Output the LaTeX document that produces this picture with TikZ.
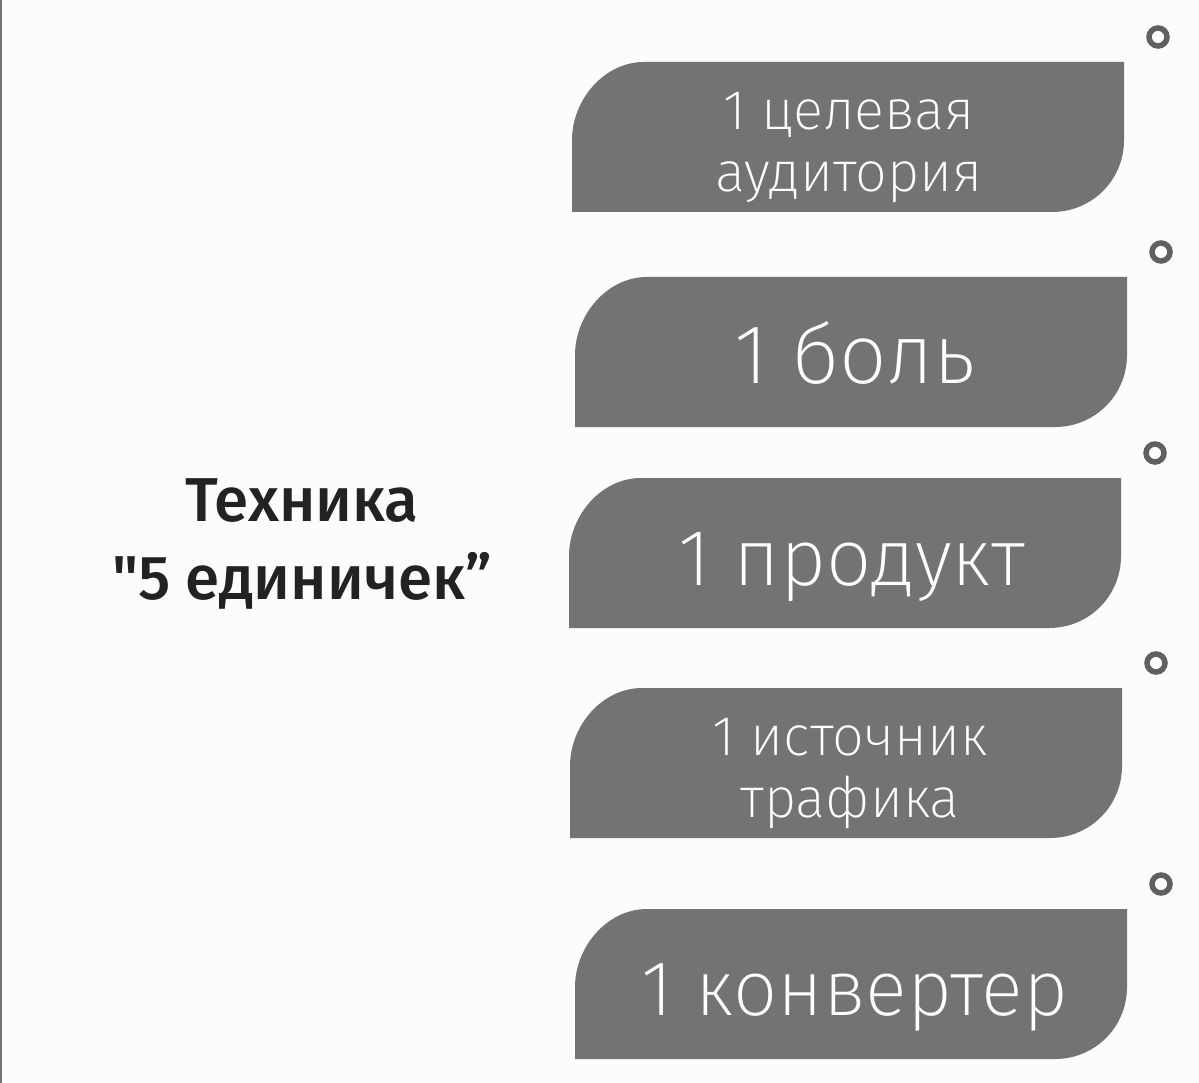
\documentclass[tikz,border=0pt]{standalone}
\usepackage{fontspec}
\newfontfamily\titlefont{Fira Sans Medium}
\newfontfamily\leaffont{Fira Sans ExtraLight}
\definecolor{leafgray}{HTML}{737373}
\definecolor{ringgray}{HTML}{606060}
\definecolor{paper}{HTML}{FCFCFC}
\definecolor{ink}{HTML}{222222}

\begin{document}
\begin{tikzpicture}[x=1pt,y=-1pt,
    leaf/.style={fill=leafgray},
    ring/.style={circle,draw=ringgray,line width=5.5pt,minimum size=18pt,inner sep=0pt},
    bigtext/.style={text=white,anchor=base,inner sep=0pt,font=\leaffont\fontsize{84}{90}\selectfont},
    smalltext/.style={text=white,anchor=base,inner sep=0pt,align=center,font=\leaffont\fontsize{56}{62}\selectfont},
    title/.style={text=ink,align=center,inner sep=0pt,font=\titlefont\fontsize{62}{78}\selectfont}]
    \useasboundingbox (0,0) rectangle (1199,1083);
    \fill[paper] (0,0) rectangle (1199,1083);
    \draw[leafgray,line width=2.5pt] (1,0) -- (1,1083);
    % five boxes: number / left edge / top edge
    \foreach \n/\x/\y in {1/572/62,2/575/277,3/569/478,4/570/688,5/575/909}{
        \fill[leaf] (\x,\y+150) -- (\x,\y+78) .. controls (\x,\y+38) and (\x+32,\y) .. (\x+72,\y)
            -- (\x+552,\y) -- (\x+552,\y+78) .. controls (\x+552,\y+118) and (\x+520,\y+150) .. (\x+480,\y+150) -- cycle;
        \node[ring] (ring\n) at (\x+586,\y-25) {};
    }
    \node[smalltext] (aud) at (849,192) {1 целевая\\аудитория};
    \node[bigtext] (pain) at (855,383) {1 боль};
    \node[bigtext,font=\leaffont\fontsize{80}{86}\selectfont] (prod) at (852,585) {1 продукт};
    \node[smalltext] (traffic) at (850,817) {1 источник\\трафика};
    \node[bigtext,font=\leaffont\fontsize{78}{84}\selectfont] (conv) at (855,1015) {1 конвертер};
    % title on the left
    \node[title] (tech) at (302,544) {Техника\\"5 единичек”};
\end{tikzpicture}
\end{document}
